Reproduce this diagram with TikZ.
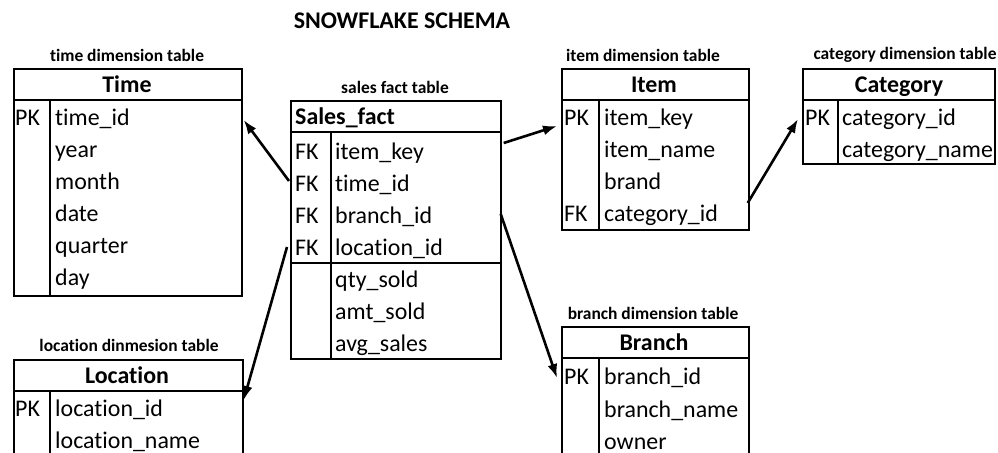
\documentclass[tikz,border=0pt]{standalone}
\usepackage{fontspec}
\setmainfont{Carlito}[Ligatures=NoCommon]
\usetikzlibrary{arrows.meta,calc}

\begin{document}
\begin{tikzpicture}[x=1bp, y=-1bp, >={Latex[length=14bp,width=10bp]},
  tbl/.style={draw, line width=1.7bp, anchor=north west, inner sep=0pt},
  hdr/.style={anchor=base, inner sep=0pt, font=\fontsize{24}{28}\selectfont\bfseries},
  row/.style={anchor=base west, inner sep=0pt, text height=16bp, text depth=2bp, font=\fontsize{24}{28}\selectfont},
  lbl/.style={inner sep=0pt, font=\fontsize{17.5}{20}\selectfont\bfseries},
  link/.style={->, line width=2.6bp}]

\clip (0,0) rectangle (998,453);

% Title
\node[font=\fontsize{24}{28}\selectfont\bfseries] (title) at (402,21) {SNOWFLAKE SCHEMA};

% Time dimension
\node[lbl] (timelbl) at (127,55) {time dimension table};
\node[tbl, minimum width=228bp, minimum height=227bp] (time) at (13,68) {};
\draw[line width=1.7bp] (13,100) -- (241,100) (50,100) -- (50,295);
\node[hdr] (timehdr) at (127,93) {Time};
\node[row] (tpk) at (15,126) {PK};
\foreach \n/\lab [count=\i from 0] in {t1/time\_id, t2/year, t3/month, t4/date, t5/quarter, t6/day}
  \node[row] (\n) at (55,126+32*\i) {\lab};

% Sales fact
\node[lbl] (saleslbl) at (395,87) {sales fact table};
\node[tbl, minimum width=210bp, minimum height=258bp] (sales) at (290,100) {};
\draw[line width=1.7bp] (290,132) -- (500,132) (290,263) -- (500,263) (331,132) -- (331,358);
\node[hdr, anchor=base west] (saleshdr) at (295,125) {Sales\_fact};
\foreach \i in {0,...,3}
  \node[row] (sfk\i) at (295,160+32*\i) {FK};
\foreach \n/\lab [count=\i from 0] in {s1/item\_key, s2/time\_id, s3/branch\_id, s4/location\_id, s5/qty\_sold, s6/amt\_sold, s7/avg\_sales}
  \node[row] (\n) at (335,160+32*\i) {\lab};

% Item dimension
\node[lbl] (itemlbl) at (643,55) {item dimension table};
\node[tbl, minimum width=187bp, minimum height=161bp] (item) at (561,68) {};
\draw[line width=1.7bp] (561,100) -- (748,100) (599,100) -- (599,229);
\node[hdr] (itemhdr) at (654,93) {Item};
\node[row] (ipk) at (564,126) {PK};
\node[row] (ifk) at (564,222) {FK};
\foreach \n/\lab [count=\i from 0] in {i1/item\_key, i2/item\_name, i3/brand, i4/category\_id}
  \node[row] (\n) at (604,126+32*\i) {\lab};

% Category dimension
\node[lbl] (catlbl) at (905,55) {category dimension table};
\node[tbl, minimum width=192bp, minimum height=95bp] (category) at (802,68) {};
\draw[line width=1.7bp] (802,100) -- (994,100) (838,100) -- (838,163);
\node[hdr] (cathdr) at (899,93) {Category};
\node[row] (cpk) at (805,126) {PK};
\foreach \n/\lab [count=\i from 0] in {c1/category\_id, c2/category\_name}
  \node[row] (\n) at (842,126+32*\i) {\lab};

% Location dimension
\node[lbl] (loclbl) at (129,345) {location dinmesion table};
\node[tbl, minimum width=229bp, minimum height=120bp] (location) at (13,359) {};
\draw[line width=1.7bp] (13,391) -- (242,391) (50,391) -- (50,479);
\node[hdr] (lochdr) at (127,384) {Location};
\node[row] (lpk) at (15,416) {PK};
\foreach \n/\lab [count=\i from 0] in {l1/location\_id, l2/location\_name}
  \node[row] (\n) at (55,416+32*\i) {\lab};

% Branch dimension
\node[lbl] (brlbl) at (653,313) {branch dimension table};
\node[tbl, minimum width=187bp, minimum height=150bp] (branch) at (561,326) {};
\draw[line width=1.7bp] (561,358) -- (748,358) (599,358) -- (599,476);
\node[hdr] (brhdr) at (654,351) {Branch};
\node[row] (bpk) at (564,385) {PK};
\foreach \n/\lab [count=\i from 0] in {b1/branch\_id, b2/branch\_name, b3/owner}
  \node[row] (\n) at (604,385+32*\i) {\lab};

% Links
\draw[link] ($(sales.west |- s2)+(-1,-4)$) -- ($(time.east |- t1)+(1,1)$);
\draw[link] ($(sales.west |- s4)+(-3,-2)$) -- ($(location.east |- l1)+(0,-9)$);
\draw[link] ($(sales.east |- s1)+(2,-10)$) -- ($(item.west |- i1)+(-4,7)$);
\draw[link] ($(item.east |- i4)+(-2,-12)$) -- ($(category.west |- c1)+(-4,0)$);
\draw[link] ($(sales.east |- s3)+(-1,-3)$) -- ($(branch.west |- b1)+(-4,0)$);

\end{tikzpicture}
\end{document}
